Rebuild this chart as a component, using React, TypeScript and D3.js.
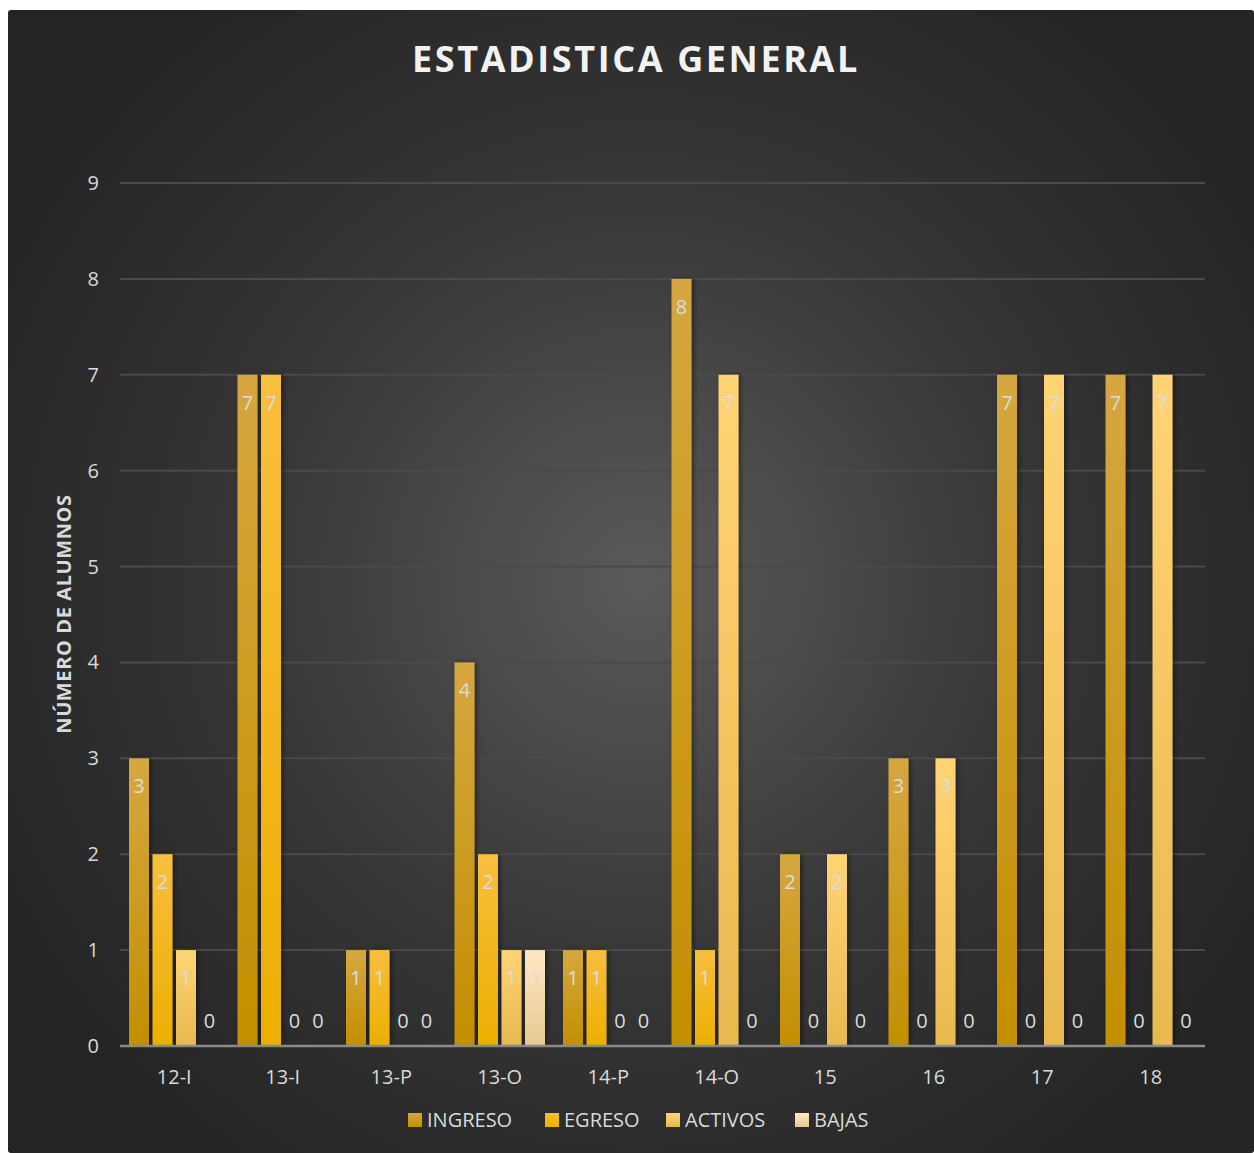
import React from "react";
import * as d3 from "d3";

const categories = ["12-I", "13-I", "13-P", "13-O", "14-P", "14-O", "15", "16", "17", "18"];
const seriesNames = ["INGRESO", "EGRESO", "ACTIVOS", "BAJAS"];
const ingreso = [3, 7, 1, 4, 1, 8, 2, 3, 7, 7];
const egreso = [2, 7, 1, 2, 1, 1, 0, 0, 0, 0];
const activos = [1, 0, 0, 1, 0, 7, 2, 3, 7, 7];
const bajas = [0, 0, 0, 1, 0, 0, 0, 0, 0, 0];
const yTicks = [0, 1, 2, 3, 4, 5, 6, 7, 8, 9];

const seriesValues = [ingreso, egreso, activos, bajas];
const gradStops = [
  ["#d6a740", "#c38f00"],
  ["#f8be3e", "#ecaf00"],
  ["#ffd474", "#e9b94f"],
  ["#ffe8c4", "#e6c991"],
];
const legendX = [408, 545, 666, 795];

const FONT = "'Open Sans', 'Noto Sans', sans-serif";

export default function App() {
  const W = 1254, H = 1153;
  const x0 = d3.scaleBand<string>().domain(categories).range([120, 1205]);
  const x1 = d3
    .scaleBand<string>()
    .domain(seriesNames)
    .range([0, x0.bandwidth()])
    .paddingInner(0.15)
    .paddingOuter(0.383);
  const y = d3.scaleLinear().domain([0, 9]).range([1046, 183]);

  return (
    <svg
      width={W}
      height={H}
      style={{ position: "absolute", left: 0, top: 0, display: "block" }}
      fontFamily={FONT}
    >
      <defs>
        <radialGradient id="bg" cx="640" cy="580" r="720" gradientUnits="userSpaceOnUse">
          <stop offset="0" stopColor="#5a5a5a" />
          <stop offset="0.55" stopColor="#363636" />
          <stop offset="1" stopColor="#242424" />
        </radialGradient>
        {gradStops.map((g, i) => (
          <linearGradient key={i} id={`g${i}`} x1="0" y1="0" x2="0" y2="1">
            <stop offset="0" stopColor={g[0]} />
            <stop offset="1" stopColor={g[1]} />
          </linearGradient>
        ))}
        <filter id="sh" x="-30%" y="-10%" width="160%" height="120%">
          <feDropShadow dx="2" dy="0" stdDeviation="2.5" floodColor="#000" floodOpacity="0.45" />
        </filter>
      </defs>
      <rect x={8} y={10} width={W - 8} height={H - 10} rx={3} fill="url(#bg)" />

      <text
        x={636}
        y={72}
        textAnchor="middle"
        fill="#f2f2f2"
        fontSize={36}
        fontWeight="bold"
        letterSpacing={2.6}
      >
        ESTADISTICA GENERAL
      </text>

      {/* gridlines */}
      {yTicks.map((t) =>
        t === 0 ? null : (
          <line key={t} x1={120} x2={1205} y1={y(t)} y2={y(t)} stroke="#4a4a4a" strokeWidth={2} />
        )
      )}
      {/* y tick labels */}
      {yTicks.map((t) => (
        <text
          key={"yl" + t}
          x={99}
          y={y(t)}
          dy="0.35em"
          textAnchor="end"
          fill="#d9d9d9"
          fontSize={20}
        >
          {t}
        </text>
      ))}

      <text
        transform="translate(71,614) rotate(-90)"
        textAnchor="middle"
        fill="#d9d9d9"
        fontSize={20}
        fontWeight="bold"
        letterSpacing={0.6}
      >
        NÚMERO DE ALUMNOS
      </text>

      {/* bars */}
      {categories.map((c, ci) => (
        <g key={c} transform={`translate(${x0(c)},0)`}>
          {seriesNames.map((s, si) => {
            const v = seriesValues[si][ci];
            const bx = x1(s)!;
            const bw = x1.bandwidth();
            return v > 0 ? (
              <rect
                key={s}
                x={bx}
                y={y(v)}
                width={bw}
                height={y(0) - y(v)}
                fill={`url(#g${si})`}
                filter="url(#sh)"
              />
            ) : null;
          })}
        </g>
      ))}

      {/* axis line */}
      <line x1={120} x2={1205} y1={y(0)} y2={y(0)} stroke="#8a8a8a" strokeWidth={2.5} />

      {/* data labels */}
      {categories.map((c, ci) => (
        <g key={"dl" + c} transform={`translate(${x0(c)},0)`}>
          {seriesNames.map((s, si) => {
            const v = seriesValues[si][ci];
            const cx = x1(s)! + x1.bandwidth() / 2;
            const ty = v > 0 ? y(v) + 28 : y(0) - 25;
            return (
              <text
                key={s}
                x={cx}
                y={ty}
                dy="0.35em"
                textAnchor="middle"
                fill="#dcdcdc"
                fontSize={20}
              >
                {v}
              </text>
            );
          })}
        </g>
      ))}

      {/* x labels */}
      {categories.map((c) => (
        <text
          key={"xl" + c}
          x={x0(c)! + x0.bandwidth() / 2}
          y={1077}
          dy="0.35em"
          textAnchor="middle"
          fill="#d9d9d9"
          fontSize={20}
        >
          {c}
        </text>
      ))}

      {/* legend */}
      {seriesNames.map((s, si) => (
        <g key={"lg" + s}>
          <rect x={legendX[si]} y={1113} width={14} height={14} fill={`url(#g${si})`} />
          <text x={legendX[si] + 19} y={1120} dy="0.35em" fill="#d9d9d9" fontSize={20}>
            {s}
          </text>
        </g>
      ))}
    </svg>
  );
}
